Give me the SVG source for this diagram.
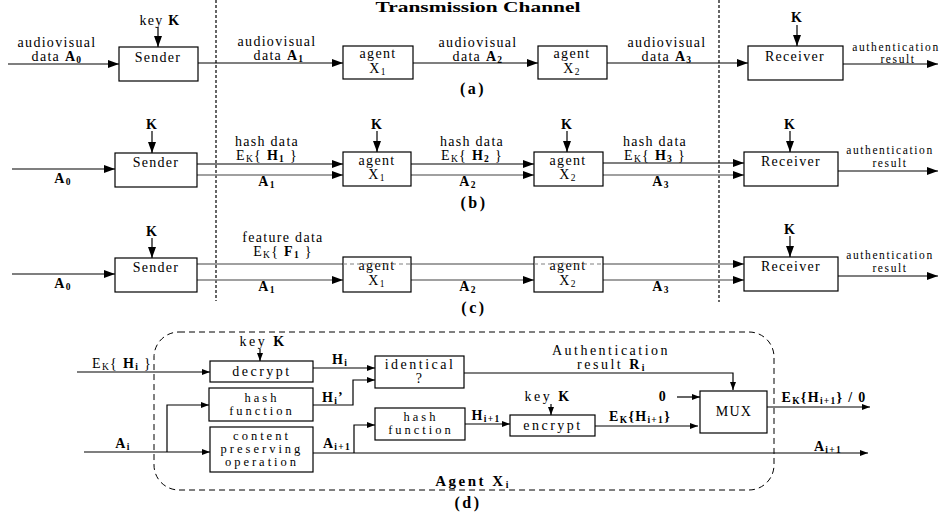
<svg xmlns="http://www.w3.org/2000/svg" width="940" height="517" viewBox="0 0 940 517">
<style>
text{font-family:"Liberation Serif","Times New Roman",serif;font-size:14px;letter-spacing:1.3px;fill:#000;text-anchor:middle}
.b{font-weight:bold}
.s{font-size:9.5px}
.sm{font-size:11.5px;letter-spacing:1.6px}
.cap{font-weight:bold;font-size:16px;letter-spacing:2.5px}
.d{font-size:14px;letter-spacing:2.5px}
.dm{font-size:12.5px;letter-spacing:3px}
.box{fill:#fff;stroke:#000;stroke-width:1.2}
.ln{fill:none;stroke:#000;stroke-width:1.2}
.g{fill:none;stroke:#808080;stroke-width:1.3}
.dv{fill:none;stroke:#000;stroke-width:1.2;stroke-dasharray:3 2}
.dd{fill:none;stroke:#808080;stroke-width:1.2;stroke-dasharray:4 3}
.frame{fill:none;stroke:#000;stroke-width:1;stroke-dasharray:6 4}
.arr{marker-end:url(#ah)}
.sar{marker-end:url(#as)}
</style>
<defs>
<marker id="ah" markerUnits="userSpaceOnUse" markerWidth="11" markerHeight="8" refX="11" refY="4" orient="auto"><path d="M0,0L11,4L0,8z" fill="#000"/></marker>
<marker id="as" markerUnits="userSpaceOnUse" markerWidth="8" markerHeight="6" refX="8" refY="3" orient="auto"><path d="M0,0L8,3L0,6z" fill="#000"/></marker>
</defs>

<g id="channel">
<line class="dv" x1="216" y1="0" x2="216" y2="301"/>
<line class="dv" x1="719" y1="0" x2="719" y2="302"/>
<text class="b" x="478" y="12" textLength="205" lengthAdjust="spacingAndGlyphs" style="letter-spacing:0">Transmission Channel</text>
</g>

<g id="connectors">
<!-- (a) -->
<path class="ln arr" d="M8,64H119"/>
<path class="ln arr" d="M198,63H343"/>
<path class="ln arr" d="M413,63H538"/>
<path class="ln arr" d="M607,63H748"/>
<path class="ln arr" d="M843,64H938"/>
<path class="ln arr" d="M158,27V47"/>
<path class="ln arr" d="M797,25V46"/>
<!-- (b) -->
<path class="ln arr" d="M12,169H115"/>
<path class="ln arr" d="M152,131V153"/>
<path class="ln arr" d="M377,131V152"/>
<path class="ln arr" d="M567,131V152"/>
<path class="ln arr" d="M790,131V152"/>
<path class="ln arr" d="M197,164H343"/>
<path class="g arr" d="M197,175H343"/>
<path class="ln arr" d="M411,164H534"/>
<path class="g arr" d="M411,175H534"/>
<path class="ln arr" d="M603,163H744"/>
<path class="g arr" d="M603,175H744"/>
<path class="ln arr" d="M838,171H938"/>
<!-- (c) -->
<path class="ln arr" d="M12,274H115"/>
<path class="ln arr" d="M152,238V258"/>
<path class="ln arr" d="M790,236V257"/>
<path class="g" d="M197,264H343"/>
<path class="g" d="M411,264H534"/>
<path class="g arr" d="M603,264H744"/>
<path class="g arr" d="M197,280H343"/>
<path class="g arr" d="M411,280H534"/>
<path class="g arr" d="M603,280H744"/>
<path class="ln arr" d="M838,276H938"/>
<!-- (d) -->
<path class="ln sar" d="M77,372H210"/>
<path class="ln sar" d="M260,349V361"/>
<path class="ln sar" d="M84,452H210"/>
<path class="ln sar" d="M167,452V405H209"/>
<path class="ln sar" d="M313,368H375"/>
<path class="ln sar" d="M313,405H353V380H375"/>
<path class="ln sar" d="M464,373H733V390"/>
<path class="ln sar" d="M313,453H868"/>
<path class="ln sar" d="M354,453V425H375"/>
<path class="ln sar" d="M465,424H510"/>
<path class="ln sar" d="M551,404V415"/>
<path class="ln sar" d="M595,426H698"/>
<path class="ln sar" d="M677,397H700"/>
<path class="ln sar" d="M767,407H870"/>
</g>

<!-- panel (a) -->
<g id="a-sender">
<rect class="box" x="119" y="47" width="79" height="34"/>
<text x="158" y="62">Sender</text>
<text x="160" y="25">key <tspan class="b">K</tspan></text>
</g>
<g id="a-agent1">
<rect class="box" x="343" y="46" width="70" height="33"/>
<text x="378" y="58">agent</text>
<text x="378" y="73">X<tspan class="s" dy="2">1</tspan></text>
</g>
<g id="a-agent2">
<rect class="box" x="538" y="46" width="69" height="33"/>
<text x="572" y="58">agent</text>
<text x="572" y="73">X<tspan class="s" dy="2">2</tspan></text>
</g>
<g id="a-receiver">
<rect class="box" x="748" y="46" width="95" height="34"/>
<text x="795" y="61">Receiver</text>
<text class="b" x="797" y="22">K</text>
</g>
<g id="a-labels">
<text x="57" y="47">audiovisual</text>
<text x="57" y="61">data <tspan class="b">A<tspan class="s" dy="2">0</tspan></tspan></text>
<text x="277" y="46">audiovisual</text>
<text x="279" y="60">data <tspan class="b">A<tspan class="s" dy="2">1</tspan></tspan></text>
<text x="478" y="47">audiovisual</text>
<text x="478" y="61">data <tspan class="b">A<tspan class="s" dy="2">2</tspan></tspan></text>
<text x="667" y="47">audiovisual</text>
<text x="667" y="61">data <tspan class="b">A<tspan class="s" dy="2">3</tspan></tspan></text>
<text class="sm" x="896" y="51">authentication</text>
<text class="sm" x="898" y="63">result</text>
<text class="cap" x="473" y="94">(a)</text>
</g>

<!-- panel (b) -->
<g id="b-sender">
<rect class="box" x="115" y="153" width="82" height="34"/>
<text x="156" y="167">Sender</text>
<text class="b" x="152" y="129">K</text>
</g>
<g id="b-agent1">
<rect class="box" x="343" y="152" width="68" height="34"/>
<text x="377" y="165">agent</text>
<text x="377" y="179">X<tspan class="s" dy="2">1</tspan></text>
<text class="b" x="377" y="129">K</text>
</g>
<g id="b-agent2">
<rect class="box" x="534" y="152" width="69" height="34"/>
<text x="568" y="165">agent</text>
<text x="568" y="179">X<tspan class="s" dy="2">2</tspan></text>
<text class="b" x="567" y="129">K</text>
</g>
<g id="b-receiver">
<rect class="box" x="744" y="152" width="94" height="34"/>
<text x="791" y="166">Receiver</text>
<text class="b" x="790" y="129">K</text>
</g>
<g id="b-labels">
<text class="b" x="63" y="183">A<tspan class="s" dy="2">0</tspan></text>
<text x="267" y="146">hash data</text>
<text x="267" y="160">E<tspan class="s" dy="2">K</tspan><tspan dy="-2">{ </tspan><tspan class="b">H<tspan class="s" dy="2">1</tspan></tspan><tspan dy="-2"> }</tspan></text>
<text class="b" x="267" y="186">A<tspan class="s" dy="2">1</tspan></text>
<text x="472" y="146">hash data</text>
<text x="472" y="160">E<tspan class="s" dy="2">K</tspan><tspan dy="-2">{ </tspan><tspan class="b">H<tspan class="s" dy="2">2</tspan></tspan><tspan dy="-2"> }</tspan></text>
<text class="b" x="468" y="186">A<tspan class="s" dy="2">2</tspan></text>
<text x="655" y="146">hash data</text>
<text x="655" y="160">E<tspan class="s" dy="2">K</tspan><tspan dy="-2">{ </tspan><tspan class="b">H<tspan class="s" dy="2">3</tspan></tspan><tspan dy="-2"> }</tspan></text>
<text class="b" x="661" y="186">A<tspan class="s" dy="2">3</tspan></text>
<text class="sm" x="890" y="154">authentication</text>
<text class="sm" x="890" y="167">result</text>
<text class="cap" x="474" y="208">(b)</text>
</g>

<!-- panel (c) -->
<g id="c-sender">
<rect class="box" x="115" y="258" width="82" height="34"/>
<text x="156" y="272">Sender</text>
<text class="b" x="152" y="236">K</text>
</g>
<g id="c-agent1">
<rect class="box" x="343" y="257" width="68" height="35"/>
<text x="377" y="270">agent</text>
<text x="377" y="285">X<tspan class="s" dy="2">1</tspan></text>
</g>
<g id="c-agent2">
<rect class="box" x="534" y="257" width="69" height="35"/>
<text x="568" y="270">agent</text>
<text x="568" y="285">X<tspan class="s" dy="2">2</tspan></text>
</g>
<g id="c-receiver">
<rect class="box" x="744" y="257" width="94" height="34"/>
<text x="791" y="271">Receiver</text>
<text class="b" x="790" y="234">K</text>
</g>
<g id="c-overlay">
<path class="dd" d="M343,264H411M534,264H603"/>
</g>
<g id="c-labels">
<text class="b" x="63" y="288">A<tspan class="s" dy="2">0</tspan></text>
<text x="283" y="242">feature data</text>
<text x="283" y="256">E<tspan class="s" dy="2">K</tspan><tspan dy="-2">{ </tspan><tspan class="b">F<tspan class="s" dy="2">1</tspan></tspan><tspan dy="-2"> }</tspan></text>
<text class="b" x="267" y="291">A<tspan class="s" dy="2">1</tspan></text>
<text class="b" x="468" y="291">A<tspan class="s" dy="2">2</tspan></text>
<text class="b" x="661" y="291">A<tspan class="s" dy="2">3</tspan></text>
<text class="sm" x="890" y="259">authentication</text>
<text class="sm" x="890" y="272">result</text>
<text class="cap" x="474" y="313">(c)</text>
</g>

<!-- panel (d) -->
<g id="agent-frame">
<rect class="frame" x="154" y="332" width="620" height="158" rx="25" ry="25"/>
<text class="b" x="473" y="486" style="font-size:15px;letter-spacing:2.5px">Agent X<tspan class="s" dy="2">i</tspan></text>
<text class="cap" x="468" y="508">(d)</text>
</g>
<g id="decrypt">
<rect class="box" x="210" y="361" width="103" height="21"/>
<text class="d" x="262" y="376">decrypt</text>
<text class="d" x="263" y="346">key <tspan class="b">K</tspan></text>
</g>
<g id="hash1">
<rect class="box" x="209" y="388" width="104" height="33"/>
<text class="dm" x="262" y="402">hash</text>
<text class="dm" x="262" y="415">function</text>
</g>
<g id="cpo">
<rect class="box" x="210" y="427" width="103" height="45"/>
<text class="dm" x="262" y="440">content</text>
<text class="dm" x="262" y="453">preserving</text>
<text class="dm" x="262" y="466">operation</text>
</g>
<g id="identical">
<rect class="box" x="375" y="356" width="89" height="32"/>
<text class="d" x="420" y="369">identical</text>
<text class="d" x="420" y="383">?</text>
</g>
<g id="hash2">
<rect class="box" x="375" y="408" width="90" height="32"/>
<text class="dm" x="421" y="421">hash</text>
<text class="dm" x="421" y="434">function</text>
</g>
<g id="encrypt">
<rect class="box" x="510" y="415" width="85" height="21"/>
<text class="d" x="553" y="430">encrypt</text>
<text class="d" x="548" y="401">key <tspan class="b">K</tspan></text>
</g>
<g id="mux">
<rect class="box" x="700" y="391" width="67" height="42"/>
<text x="734" y="416">MUX</text>
</g>
<g id="d-labels">
<text x="122" y="368">E<tspan class="s" dy="2">K</tspan><tspan dy="-2">{ </tspan><tspan class="b">H<tspan class="s" dy="2">i</tspan></tspan><tspan dy="-2"> }</tspan></text>
<text class="b" x="123" y="448">A<tspan class="s" dy="2">i</tspan></text>
<text class="b" x="340" y="364">H<tspan class="s" dy="2">i</tspan></text>
<text class="b" x="333" y="402">H<tspan class="s" dy="2">i</tspan><tspan dy="-2">’</tspan></text>
<text class="b" x="337" y="448">A<tspan class="s" dy="2">i+1</tspan></text>
<text class="b" x="486" y="420">H<tspan class="s" dy="2">i+1</tspan></text>
<text class="d" x="611" y="355">Authentication</text>
<text class="d" x="612" y="369">result <tspan class="b">R<tspan class="s" dy="2">i</tspan></tspan></text>
<text class="b" x="640" y="421">E<tspan class="s" dy="2">K</tspan><tspan dy="-2">{</tspan>H<tspan class="s" dy="2">i+1</tspan><tspan dy="-2">}</tspan></text>
<text class="b" x="663" y="401">0</text>
<text class="b" x="824" y="402">E<tspan class="s" dy="2">K</tspan><tspan dy="-2">{</tspan>H<tspan class="s" dy="2">i+1</tspan><tspan dy="-2">} / 0</tspan></text>
<text class="b" x="828" y="451">A<tspan class="s" dy="2">i+1</tspan></text>
</g>
</svg>
